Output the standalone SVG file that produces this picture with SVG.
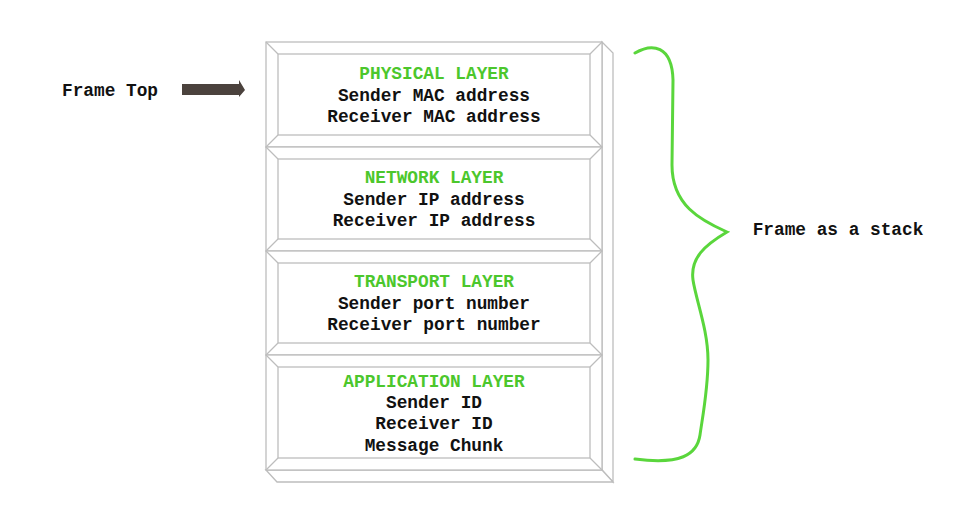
<svg xmlns="http://www.w3.org/2000/svg" width="966" height="509" viewBox="0 0 966 509">
<style>
.f{fill:#ffffff;stroke:#bdbdbd;stroke-width:1.3;}
.l{fill:none;stroke:#bdbdbd;stroke-width:1.3;}
text{font-family:"Liberation Mono","Courier New",monospace;font-weight:bold;font-size:17.8px;text-anchor:middle;fill:#111111;}
.h{fill:#4cc72c;}
</style>
<rect width="966" height="509" fill="#ffffff"/>
<g id="extrusion">
<polygon class="f" points="602,42 613,53 613,482 602,470"/>
<polygon class="f" points="266,470 277,482 613,482 602,470"/>
</g>
<g id="physical-layer">
<rect class="f" x="266" y="42" width="336" height="105"/>
<rect class="l" x="278" y="54" width="312" height="81"/>
<path class="l" d="M266,42 L278,54 M602,42 L590,54 M266,147 L278,135 M602,147 L590,135"/>
<text class="h" x="434" y="79">PHYSICAL LAYER</text>
<text x="434" y="101">Sender MAC address</text>
<text x="434" y="122">Receiver MAC address</text>
</g>
<g id="network-layer">
<rect class="f" x="266" y="147" width="336" height="104"/>
<rect class="l" x="278" y="159" width="312" height="80"/>
<path class="l" d="M266,147 L278,159 M602,147 L590,159 M266,251 L278,239 M602,251 L590,239"/>
<text class="h" x="434" y="183">NETWORK LAYER</text>
<text x="434" y="205">Sender IP address</text>
<text x="434" y="226">Receiver IP address</text>
</g>
<g id="transport-layer">
<rect class="f" x="266" y="251" width="336" height="104"/>
<rect class="l" x="278" y="263" width="312" height="80"/>
<path class="l" d="M266,251 L278,263 M602,251 L590,263 M266,355 L278,343 M602,355 L590,343"/>
<text class="h" x="434" y="287">TRANSPORT LAYER</text>
<text x="434" y="309">Sender port number</text>
<text x="434" y="330">Receiver port number</text>
</g>
<g id="application-layer">
<rect class="f" x="266" y="355" width="336" height="115"/>
<rect class="l" x="278" y="367" width="312" height="91"/>
<path class="l" d="M266,355 L278,367 M602,355 L590,367 M266,470 L278,458 M602,470 L590,458"/>
<text class="h" x="434" y="387">APPLICATION LAYER</text>
<text x="434" y="408">Sender ID</text>
<text x="434" y="429">Receiver ID</text>
<text x="434" y="451">Message Chunk</text>
</g>
<g id="frame-top-label">
<text x="110" y="96">Frame Top</text>
</g>
<g id="stack-label">
<text x="838" y="235">Frame as a stack</text>
</g>
<g id="connectors">
<polygon points="182,84 239,84 239,80 245,90 239,97 239,95 182,95" fill="#4b423d"/>
<path d="M635,53 C652,43 672,45 673,80 L672,165 C672,205 700,220 727,232 C705,245 690,258 693,280 C696,300 708,330 708,360 C708,390 702,420 700,435 C697,455 680,465 635,459" fill="none" stroke="#5ad63c" stroke-width="3" stroke-linecap="round"/>
</g>
</svg>
